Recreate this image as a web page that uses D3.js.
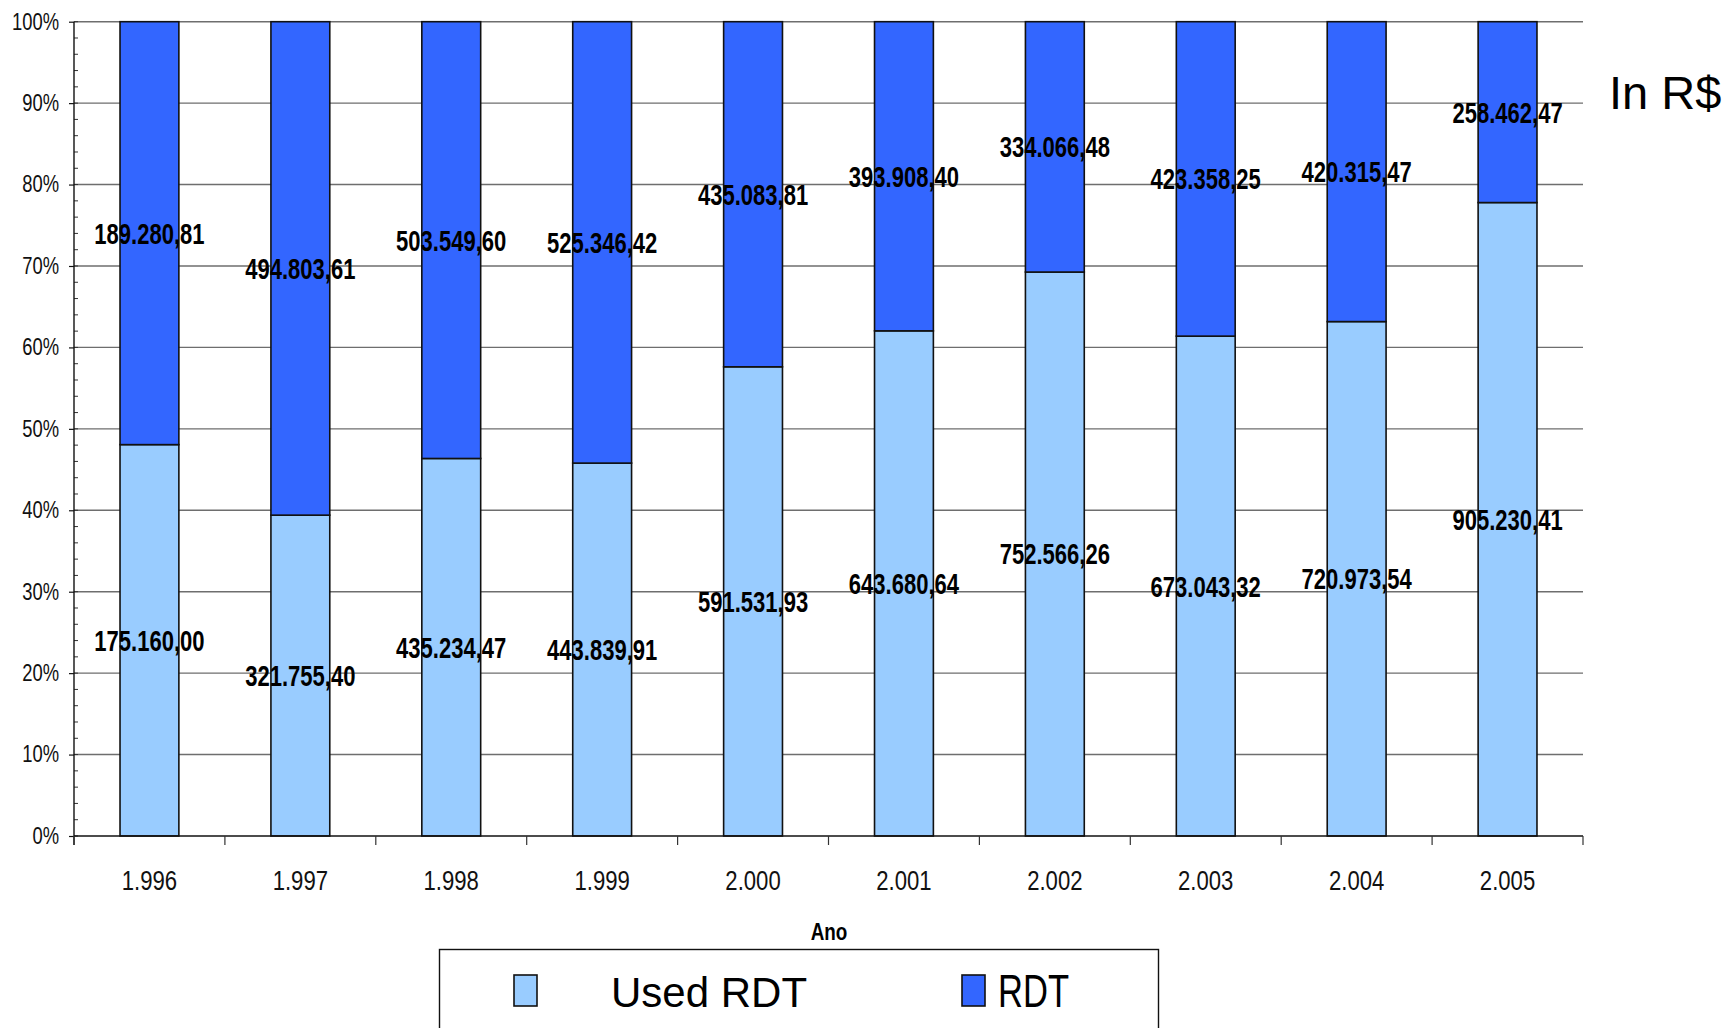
<!DOCTYPE html>
<html>
<head>
<meta charset="utf-8">
<script src="https://cdn.jsdelivr.net/npm/d3@7"></script>
<style>
  html, body { margin: 0; padding: 0; background: #fff; }
  svg { display: block; }
  text { font-family: "Liberation Sans", Arial, sans-serif; }
</style>
</head>
<body>
<svg id="chart" width="1727" height="1028"></svg>
<script>
// Years on the category axis
const years = ["1.996", "1.997", "1.998", "1.999", "2.000", "2.001", "2.002", "2.003", "2.004", "2.005"];
// Amounts in R$ per year
const usedRDT = [175160.00, 321755.40, 435234.47, 443839.91, 591531.93, 643680.64, 752566.26, 673043.32, 720973.54, 905230.41];
const rdt = [189280.81, 494803.61, 503549.60, 525346.42, 435083.81, 393908.40, 334066.48, 423358.25, 420315.47, 258462.47];
// Series names and fills
const seriesNames = ["Used RDT", "RDT"];
const seriesColors = ["#99CCFF", "#3366FF"];
// Percent ticks
const yTicks = [0, 0.1, 0.2, 0.3, 0.4, 0.5, 0.6, 0.7, 0.8, 0.9, 1.0];
const yMinorTicks = d3.range(0, 51).map(i => i * 0.02);

const rows = years.map((y, i) => ({ year: y, "Used RDT": usedRDT[i], "RDT": rdt[i] }));

const svg = d3.select("#chart");
const plotLeft = 74, plotRight = 1583, plotTop = 21.7, plotBottom = 836;

const x = d3.scaleBand().domain(years).range([plotLeft, plotRight]).paddingInner(0.61).paddingOuter(0.305);
const y = d3.scaleLinear().domain([0, 1]).range([plotBottom, plotTop]);

const stack = d3.stack().keys(seriesNames).offset(d3.stackOffsetExpand);
const layers = stack(rows);

// Condensed text: squeeze glyphs horizontally while keeping the anchor point
const condensed = (sel, sx, cx) => sel
  .attr("transform", `scale(${sx},1)`)
  .attr("x", d => (typeof cx === "function" ? cx(d) : cx) / sx);

// Horizontal gridlines
svg.append("g")
  .selectAll("line")
  .data(yTicks.filter(t => t > 0))
  .join("line")
  .attr("x1", plotLeft).attr("x2", plotRight)
  .attr("y1", d => y(d)).attr("y2", d => y(d))
  .attr("stroke", "#6e6e6e")
  .attr("stroke-width", 1.4);

// Stacked bars
const fmt = v => {
  const [intPart, dec] = v.toFixed(2).split(".");
  return intPart.replace(/\B(?=(\d{3})+(?!\d))/g, ".") + "," + dec;
};

const gl = svg.append("g");
layers.forEach((layer, li) => {
  gl.append("g")
    .selectAll("rect")
    .data(layer)
    .join("rect")
    .attr("x", d => x(d.data.year))
    .attr("width", x.bandwidth())
    .attr("y", d => y(d[1]))
    .attr("height", d => y(d[0]) - y(d[1]))
    .attr("fill", seriesColors[li])
    .attr("stroke", "#111")
    .attr("stroke-width", 1.6);
});

// Value labels centred in each segment
layers.forEach(layer => {
  svg.append("g")
    .selectAll("text")
    .data(layer)
    .join("text")
    .attr("y", d => y((d[0] + d[1]) / 2))
    .attr("dy", "0.36em")
    .attr("text-anchor", "middle")
    .attr("font-size", 29)
    .attr("font-weight", "bold")
    .attr("fill", "#000")
    .text(d => fmt(d.data[layer.key]))
    .call(condensed, 0.76, d => x(d.data.year) + x.bandwidth() / 2);
});

// Y axis
const yAxis = svg.append("g")
  .attr("transform", `translate(${plotLeft},0)`)
  .call(d3.axisLeft(y).tickValues(yTicks).tickFormat(d3.format(".0%")).tickSize(5).tickPadding(10));
yAxis.select(".domain").remove();
yAxis.selectAll(".tick line").attr("stroke", "#111").attr("stroke-width", 1.2);
yAxis.selectAll(".tick text")
  .attr("font-family", null)
  .attr("font-size", 23)
  .attr("fill", "#111")
  .call(condensed, 0.8, -15);

// Minor ticks inside the axis
svg.append("g")
  .selectAll("line")
  .data(yMinorTicks)
  .join("line")
  .attr("x1", plotLeft).attr("x2", plotLeft + 4)
  .attr("y1", d => y(d)).attr("y2", d => y(d))
  .attr("stroke", "#333").attr("stroke-width", 1);

svg.append("line")
  .attr("x1", plotLeft).attr("x2", plotLeft)
  .attr("y1", plotTop).attr("y2", plotBottom + 9)
  .attr("stroke", "#111").attr("stroke-width", 1.4);

// X axis
svg.append("line")
  .attr("x1", plotLeft).attr("x2", plotRight)
  .attr("y1", plotBottom).attr("y2", plotBottom)
  .attr("stroke", "#111").attr("stroke-width", 1.6);

const boundaries = years.map(c => x(c) - x.step() * x.paddingInner() / 2).concat([plotRight]);
svg.append("g")
  .selectAll("line")
  .data(boundaries)
  .join("line")
  .attr("x1", d => d).attr("x2", d => d)
  .attr("y1", plotBottom).attr("y2", plotBottom + 9)
  .attr("stroke", "#333").attr("stroke-width", 1.2);

svg.append("g")
  .selectAll("text")
  .data(years)
  .join("text")
  .attr("y", 890)
  .attr("text-anchor", "middle")
  .attr("font-size", 27)
  .attr("fill", "#111")
  .text(d => d)
  .call(condensed, 0.82, d => x(d) + x.bandwidth() / 2);

// Axis title
svg.append("text")
  .datum("Ano")
  .attr("y", 940)
  .attr("text-anchor", "middle")
  .attr("font-size", 23)
  .attr("font-weight", "bold")
  .text(d => d)
  .call(condensed, 0.82, 829);

// Unit note
svg.append("text")
  .attr("x", 1609).attr("y", 109)
  .attr("font-size", 47)
  .attr("fill", "#000")
  .text("In R$");

// Legend
const lg = svg.append("g");
lg.append("rect")
  .attr("x", 439.5).attr("y", 949.5)
  .attr("width", 719).attr("height", 120)
  .attr("fill", "#fff").attr("stroke", "#111").attr("stroke-width", 1.4);

const legendItems = [
  { name: seriesNames[0], color: seriesColors[0], sx: 514, tx: 611, size: 42, len: null },
  { name: seriesNames[1], color: seriesColors[1], sx: 962, tx: 998, size: 47, len: 71 }
];
legendItems.forEach(it => {
  lg.append("rect")
    .attr("x", it.sx).attr("y", 975)
    .attr("width", 23).attr("height", 31)
    .attr("fill", it.color).attr("stroke", "#111").attr("stroke-width", 1.6);
  const t = lg.append("text")
    .attr("x", it.tx).attr("y", 1007)
    .attr("font-size", it.size)
    .attr("fill", "#000")
    .text(it.name);
  if (it.len) t.attr("textLength", it.len).attr("lengthAdjust", "spacingAndGlyphs");
});
</script>
</body>
</html>
